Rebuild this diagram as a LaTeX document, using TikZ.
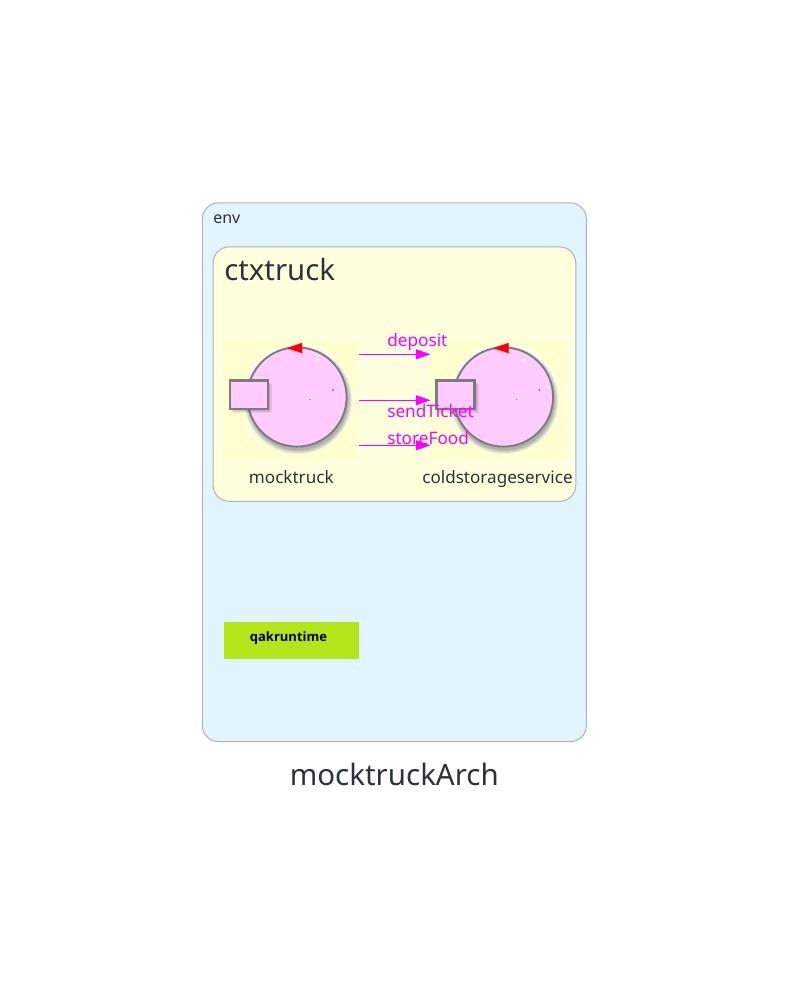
\documentclass[tikz,border=0pt]{standalone}
\usepackage{fontspec}
\setmainfont{Noto Sans}
\newfontfamily\rtfont{Open Sans}
\usetikzlibrary{arrows.meta}
\definecolor{envfill}{HTML}{E2F4FD}
\definecolor{ctxfill}{HTML}{FFFFDE}
\definecolor{imgfill}{HTML}{FFFFCF}
\definecolor{edgegrey}{HTML}{A9B4C0}
\definecolor{inkc}{HTML}{2C3238}
\definecolor{bodyc}{HTML}{FFCCFF}
\definecolor{rimc}{HTML}{7E7A80}
\definecolor{limec}{HTML}{B3E619}
\definecolor{msgc}{HTML}{FF00FF}
\tikzset{
  x=0.75pt,y=-0.75pt,
  panel/.style={draw=edgegrey,line width=0.75pt,rounded corners=12pt,inner sep=0pt,anchor=north west},
  imgbox/.style={fill=imgfill,draw=none,minimum width=101.25pt,minimum height=90pt,inner sep=0pt,anchor=north west},
  caption/.style={text=inkc,font=\fontsize{12.8pt}{15pt}\selectfont,inner sep=0pt,anchor=base},
  msg/.style={text=msgc,font=\fontsize{12.9pt}{15pt}\selectfont,inner sep=0pt,anchor=base west},
  link/.style={draw=msgc,line width=0.9pt,-{Triangle[length=11pt,width=7.5pt]}},
  shadowlayer/.style={fill=black,draw=none,opacity=0.07},
  halo/.style={fill=white,draw=none,opacity=0.35},
  tip/.style={fill=red,draw=none},
  speck/.style={fill=white,draw=none},
  speckdark/.style={fill=rimc,draw=none}
}
\newcommand{\actor}[1]{%
  \begin{scope}[shift={(#1,0)}]
    \foreach \r in {56,55,54}{\fill[halo] (1,399) circle[radius=\r*0.75pt];}
    \foreach \r in {54,53,52,51,50}{\fill[shadowlayer] (1,400) circle[radius=\r*0.75pt];}
    \filldraw[fill=bodyc,draw=rimc,line width=1.4pt] (0,397) circle[radius=37.2pt];
    \foreach \d in {4,3,2,1}{\fill[shadowlayer] (-68+\d,380+\d) rectangle (-29+\d,409+\d);}
    \filldraw[fill=bodyc,draw=rimc,line width=1.8pt] (-67,380.5) rectangle (-29,409);
    \fill[rimc,opacity=0.5] (-12,348.5) -- (5,342.5) -- (6,354) -- cycle;
    \fill[tip] (-10,348) -- (5,343) -- (5,353) -- cycle;
    \fill[speck] (20,360) circle[radius=1.4pt];
    \fill[speckdark] (36,390) circle[radius=0.9pt];
    \fill[speck] (13,399.5) circle[radius=1.2pt];
    \fill[speckdark] (13,399.5) circle[radius=0.6pt];
  \end{scope}}
\begin{document}
\begin{tikzpicture}
\useasboundingbox (0,0) rectangle (789,996);
\fill[white] (0,0) rectangle (789,996);
\node[panel,fill=envfill,minimum width=288pt,minimum height=404pt] (envbox) at (201.9,202.4) {};
\node[panel,fill=ctxfill,minimum width=272pt,minimum height=190.8pt] (ctxbox) at (212.6,246.4) {};
\node[text=inkc,font=\fontsize{12pt}{14pt}\selectfont,inner sep=0pt,anchor=base west] (envlabel) at (213,223) {env};
\node[text=inkc,font=\fontsize{22pt}{26pt}\selectfont,inner sep=0pt,anchor=base west] (ctxlabel) at (224,280) {ctxtruck};
\node[imgbox] (mock) at (223,340) {};
\node[imgbox] (cold) at (430.5,340) {};
\actor{297}
\actor{503.5}
\node[caption] (mocklabel) at (291.3,483) {mocktruck};
\node[caption] (coldlabel) at (497.5,483) {coldstorageservice};
\draw[link] ([yshift=34.5pt]mock.east) -- ([yshift=34.5pt]cold.west);
\draw[link] (mock.east) -- (cold.west);
\draw[link] ([yshift=-33.75pt]mock.east) -- ([yshift=-33.75pt]cold.west);
\node[msg] (m1) at (387,346) {deposit};
\node[msg] (m2) at (387,417) {sendTicket};
\node[msg] (m3) at (387,444) {storeFood};
\node[fill=limec,draw=none,minimum width=101.25pt,minimum height=27.75pt,inner sep=0pt,anchor=north west] (rt) at (223.4,621.4) {};
\node[text=black,font=\rtfont\fontsize{9.75pt}{12pt}\selectfont\bfseries,inner sep=0pt,anchor=base] (rtlabel) at (288.5,641) {qakruntime};
\node[text=inkc,font=\fontsize{22.1pt}{26pt}\selectfont,inner sep=0pt,anchor=base] (title) at (394.3,785) {mocktruckArch};
\end{tikzpicture}
\end{document}
